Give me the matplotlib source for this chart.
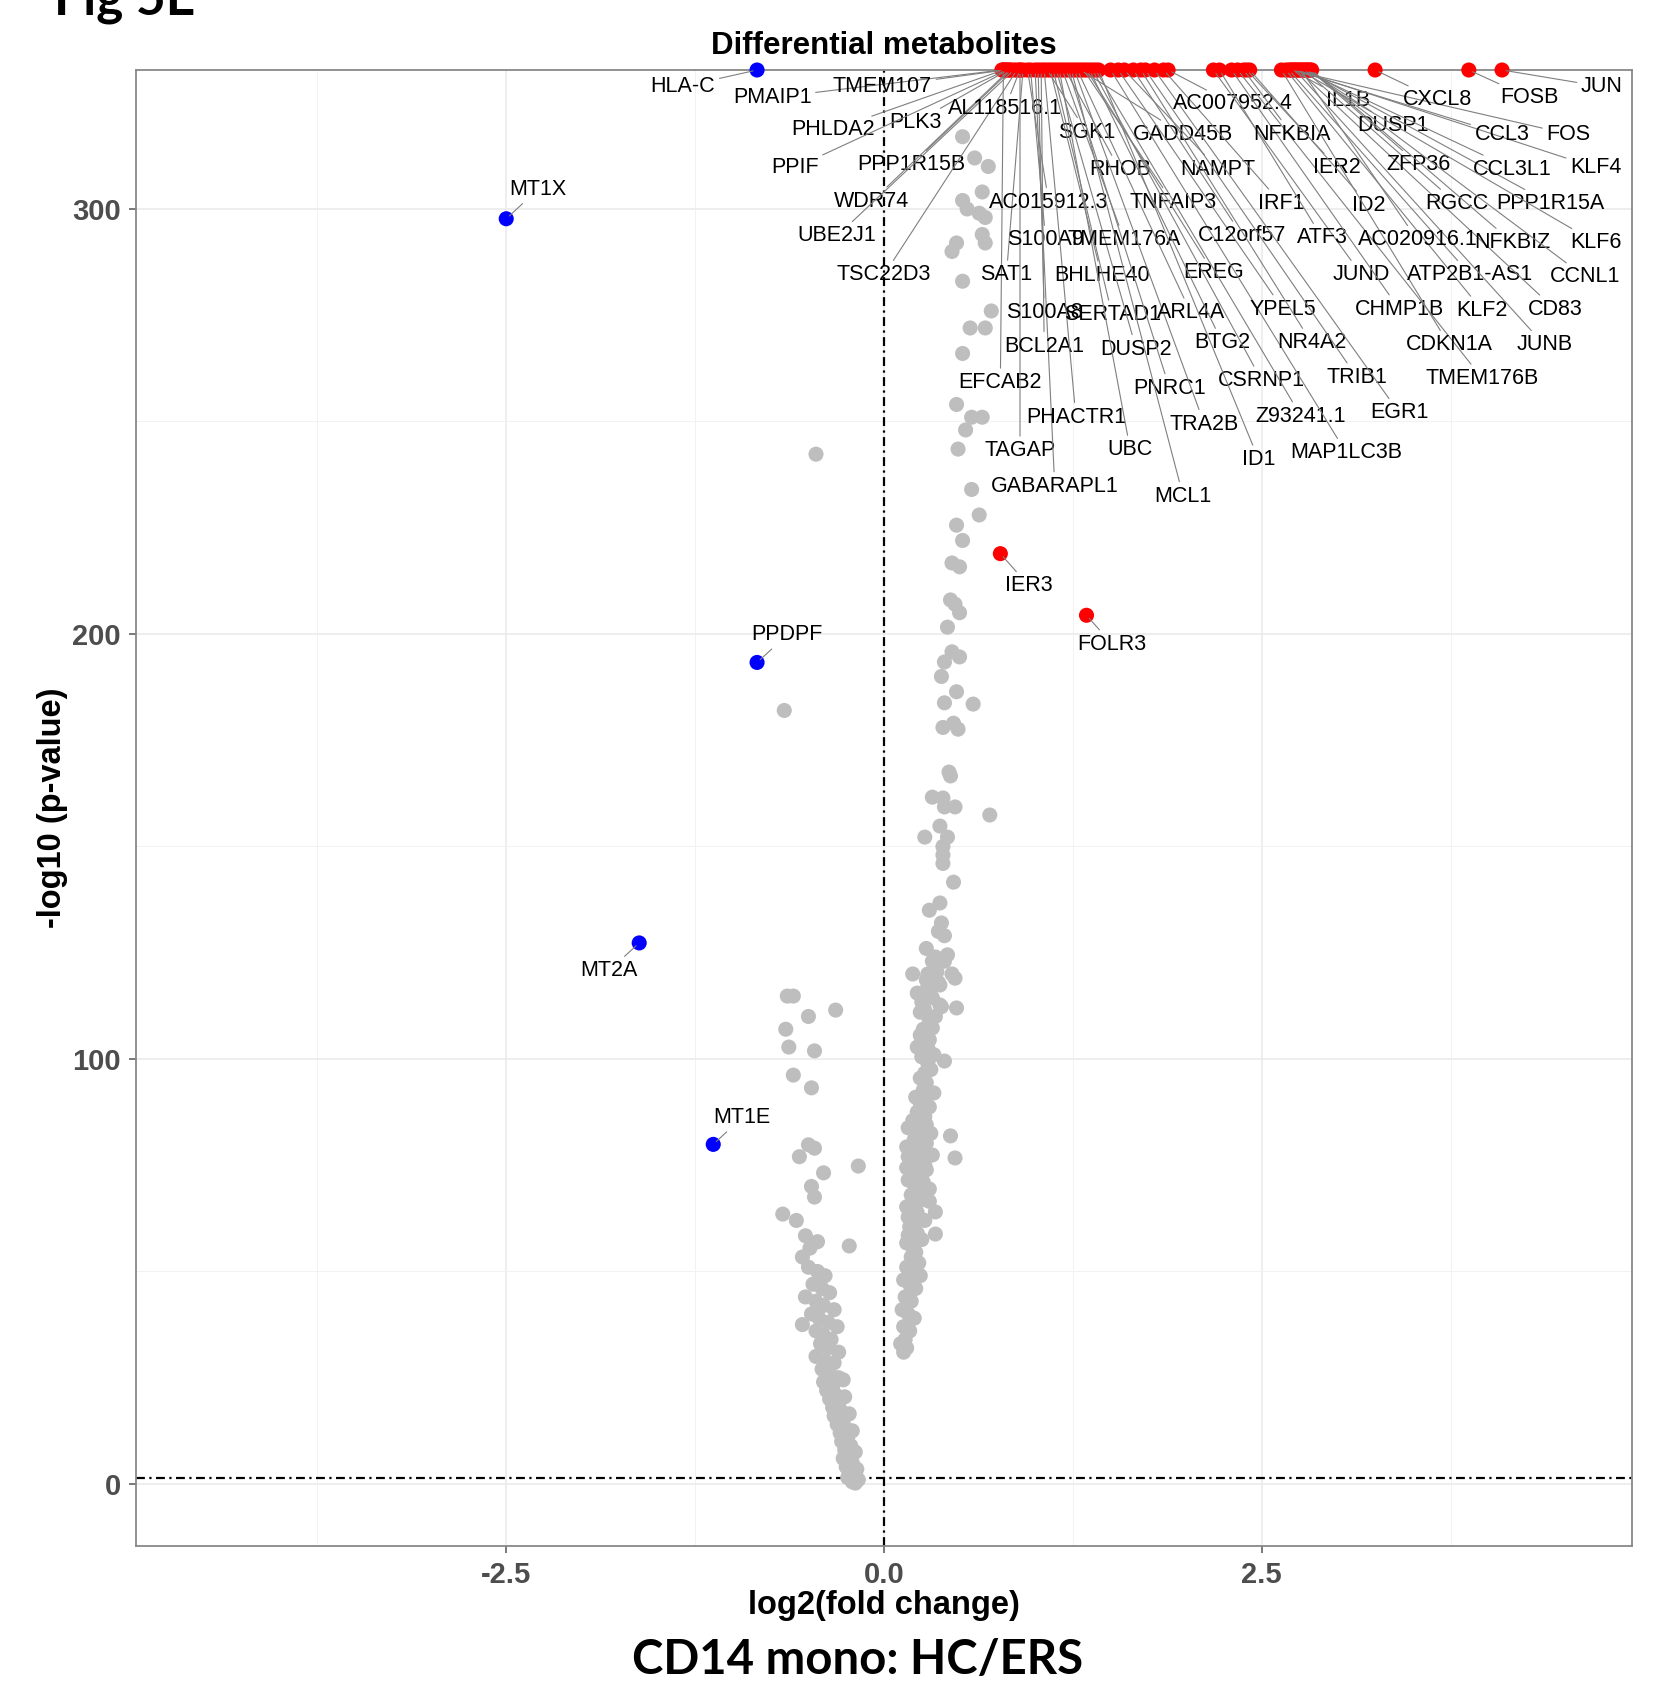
import numpy as np
import matplotlib
matplotlib.use("Agg")
import matplotlib.pyplot as plt

plt.rcParams['font.family'] = ['Liberation Sans', 'DejaVu Sans']

# ---------------- data ----------------
# non-significant genes (log2FC, -log10 p)
ns_upper = [(0.52,317),(0.60,312),(0.69,310),(0.65,304),(0.52,302),(0.55,300),(0.63,299),(0.67,298),
            (0.65,294),(0.67,292),(0.48,292),(0.45,290),(0.52,283),(0.71,276),(0.57,272),(0.67,272),
            (0.52,266),(0.48,254),(0.58,251),(0.65,251),(0.54,248),(0.49,243.5),(0.58,234),(0.63,228),
            (0.48,225.6),(0.52,222),(0.45,216.7),(0.50,215.8),(0.44,208),(0.47,207),(0.50,205),
            (0.42,201.6),(0.45,195.8),(0.50,194.6),(0.40,193.4),(0.38,190),(0.48,186.4),(0.40,183.8),
            (0.59,183.5),(0.39,178),(0.46,179),(0.49,177.6),(0.43,167.5),(0.44,166.6),(0.32,161.6),
            (0.39,161.4),(0.40,159.3),(0.47,159.3),(0.70,157.4),(0.37,154.8),(0.27,152.2),(0.42,152.2),
            (0.39,150),(0.39,148),(0.39,146),(0.46,141.6),(0.37,136.7),(0.30,135),(0.38,132),(0.36,130),
            (0.40,129),(0.28,126),(0.42,124.5),(0.34,124)]
ns_right = [(0.32,123),(0.40,123),(0.19,120),(0.29,120),(0.45,120),(0.36,118),(0.47,119),(0.28,118.6),
            (0.35,120.5),(0.22,115.5),(0.30,115.5),(0.25,113.4),(0.37,112.7),(0.48,112),(0.29,117),
            (0.37,117.4),(0.32,114.4),(0.24,111),(0.30,109),(0.26,107),(0.29,105),(0.38,112.3),
            (0.32,107.3),(0.24,105.6),(0.30,104.5),(0.22,102.8),(0.29,102.6),(0.40,99.5),(0.29,99),
            (0.27,96.7),(0.28,94.4),(0.26,92.7),(0.21,91),(0.24,89.6),(0.30,88.7),(0.22,87.5),(0.27,86.4),
            (0.16,83.8),(0.24,83.3),(0.28,84.5),(0.44,81.9),(0.15,79.3),(0.22,79.3),(0.28,80.2),(0.16,77),
            (0.22,76.2),(0.32,77.4),(0.47,76.7),(0.15,74.4),(0.22,73.2),(0.28,73.9),(0.16,71.5),(0.24,69.9),
            (0.30,69.4),(0.18,68),(0.25,66.8),(0.15,65.2),(0.22,63.8),(0.34,64),(0.34,58.8),(0.16,62.8),
            (0.17,60.5),(0.22,59),(0.15,56.7),(0.19,55.8),(0.18,53.4),(0.20,81),(0.19,75.5),(0.26,71),
            (0.20,70.5),(0.19,66),(0.27,62),(0.20,61.5),(0.25,57.5),(0.21,54.5),(0.23,52),(0.15,51),
            (0.19,50),(0.13,48),(0.17,47),(0.21,46),(0.14,44),(0.18,43),(0.12,41),(0.16,40),(0.20,39),
            (0.13,37),(0.17,36),(0.14,34),(0.11,33),(0.15,32),(0.13,31),(0.24,95.5),(0.31,97.5),
            (0.33,101),(0.26,90),(0.25,100.5),(0.34,110),(0.27,111.5),(0.33,92),(0.19,85.5),(0.31,82.5),
            (0.26,78.5),(0.27,75),(0.21,67.5),(0.30,66.5),(0.16,58.5),(0.24,49)]
ns_left = [(-0.45,242.3),(-0.66,182),(-0.64,114.8),(-0.60,114.8),(-0.32,111.5),(-0.50,110),(-0.65,107),
           (-0.63,102.8),(-0.46,101.9),(-0.60,96.2),(-0.48,93.2),(-0.50,79.8),(-0.46,79),(-0.56,77),
           (-0.17,74.8),(-0.40,73.2),(-0.48,70),(-0.46,67.5),(-0.67,63.5),(-0.58,62),(-0.23,56),
           (-0.52,58.4),(-0.44,57),(-0.49,55.5),(-0.54,53.4),(-0.50,51),(-0.44,50),(-0.39,49),(-0.47,47),
           (-0.41,46),(-0.36,45),(-0.52,44),(-0.45,43),(-0.40,42),(-0.33,41),(-0.48,40),(-0.43,39),
           (-0.37,38),(-0.54,37.5),(-0.31,37),(-0.45,36),(-0.40,35),(-0.35,34),(-0.42,33),(-0.37,32),
           (-0.30,31),(-0.45,30),(-0.39,29),(-0.33,28.5),(-0.41,27),(-0.36,26),(-0.30,25),(-0.27,24.5),
           (-0.40,24),(-0.34,23),(-0.38,22),(-0.32,21),(-0.26,20.5),(-0.36,20),(-0.30,19),(-0.34,18),
           (-0.28,17),(-0.23,16.5),(-0.33,16),(-0.27,15),(-0.31,14),(-0.25,13),(-0.21,12.5),(-0.29,12),
           (-0.24,11),(-0.28,10),(-0.22,9),(-0.26,8),(-0.19,7.5),(-0.23,7),(-0.27,6),(-0.21,5),(-0.25,4),
           (-0.18,3.5),(-0.22,3),(-0.20,2),(-0.24,1.5),(-0.17,1),(-0.21,0.5),(-0.19,0.2)]

# significant, labelled genes: name, log2FC, -log10 p (inf = p of 0, drawn at panel top)
up_genes = ["PMAIP1","TMEM107","PLK3","PHLDA2","PPIF","PPP1R15B","WDR74","UBE2J1","TSC22D3","AL118516.1",
            "EFCAB2","SAT1","TAGAP","AC015912.3","S100A9","GABARAPL1","S100A8","BCL2A1","PHACTR1","SGK1",
            "BHLHE40","SERTAD1","DUSP2","UBC","TMEM176A","RHOB","PNRC1","MCL1","TRA2B","ARL4A","GADD45B",
            "TNFAIP3","EREG","BTG2","CSRNP1","Z93241.1","ID1","MAP1LC3B","YPEL5","NAMPT","C12orf57","NR4A2",
            "TRIB1","EGR1","IRF1","AC007952.4","JUND","ATF3","CHMP1B","TMEM176B","NFKBIA","IER2","ID2",
            "CDKN1A","KLF2","ATP2B1-AS1","IL1B","JUNB","CD83","AC020916.1","RGCC","DUSP1","ZFP36","NFKBIZ",
            "CCNL1","PPP1R15A","CCL3L1","KLF6","KLF4","CCL3","FOS","CXCL8","FOSB","JUN","IER3","FOLR3"]
up_fc = [0.78,0.80,0.82,0.79,0.81,0.84,0.83,0.86,0.88,0.90,0.79,0.92,0.90,0.95,0.97,1.00,1.02,1.04,1.06,1.08,
         1.10,1.12,1.14,1.16,1.18,1.20,1.22,1.24,1.26,1.28,1.30,1.32,1.34,1.36,1.38,1.40,1.42,1.50,1.55,1.59,
         1.65,1.70,1.73,1.79,1.85,1.88,2.18,2.22,2.30,2.34,2.38,2.40,2.42,2.63,2.66,2.68,2.70,2.72,2.74,2.76,
         2.78,2.80,2.82,2.83,2.81,2.79,2.77,2.75,2.73,2.71,2.69,3.25,3.87,4.09,0.77,1.34]
up_p = [np.inf] * 74 + [218.9, 204.4]

down_genes = ["HLA-C","MT1X","PPDPF","MT2A","MT1E"]
down_fc = [-0.84,-2.50,-0.84,-1.62,-1.13]
down_p = [np.inf,297.7,193.3,127.3,79.9]

# label layout (text centre, data units), as placed by the repel algorithm
up_lab_xy = [(-0.74,326.2),(-0.01,328.8),(0.21,320.4),(-0.34,318.6),(-0.59,309.7),(0.18,310.4),(-0.08,301.8),
             (-0.31,293.7),(0.00,284.5),(0.80,323.7),(0.77,259.1),(0.81,284.5),(0.90,243.1),(1.09,301.6),
             (1.07,292.7),(1.13,234.7),(1.06,275.6),(1.06,267.7),(1.27,251.0),(1.34,318.1),(1.44,284.3),
             (1.51,275.1),(1.67,267.0),(1.63,243.3),(1.59,292.7),(1.56,309.2),(1.89,257.8),(1.98,232.4),
             (2.12,249.4),(2.03,275.6),(1.98,317.6),(1.91,301.6),(2.18,285.0),(2.24,268.5),(2.50,259.6),
             (2.76,251.2),(2.48,241.0),(3.06,242.6),(2.64,276.4),(2.21,309.4),(2.37,293.7),(2.83,268.5),
             (3.13,260.4),(3.41,252.0),(2.63,301.3),(2.31,324.7),(3.16,284.5),(2.90,293.2),(3.41,276.4),
             (3.96,260.1),(2.70,317.6),(3.00,309.7),(3.21,300.8),(3.74,268.0),(3.96,276.1),(3.88,284.5),
             (3.07,325.5),(4.37,268.0),(4.44,276.4),(3.53,292.7),(3.79,301.3),(3.37,319.6),(3.54,310.4),
             (4.16,292.1),(4.64,284.0),(4.41,301.3),(4.16,309.4),(4.71,292.1),(4.71,309.7),(4.09,317.6),
             (4.53,317.6),(3.66,325.7),(4.27,326.2),(4.75,328.8),(0.96,211.3),(1.51,197.6)]
down_lab_xy = [(-1.33,328.8),(-2.29,304.6),(-0.64,199.8),(-1.82,120.8),(-0.94,86.2)]

X_LIM = (-4.95, 4.95)
Y_LIM = (-14.6, 332.7)
P_CUT = -np.log10(0.05)

# ---------------- figure ----------------
W, H = 1664, 1695
fig = plt.figure(figsize=(W / 100, H / 100), dpi=100)
ax = fig.add_axes([136 / W, 1 - 1546 / H, (1632 - 136) / W, (1546 - 70) / H])
ax.set_xlim(*X_LIM)
ax.set_ylim(*Y_LIM)

def cap(v):
    v = np.asarray(v, dtype=float)
    return np.where(np.isinf(v), Y_LIM[1], v)

ns = ns_upper + ns_right + ns_left
ns_x = [p[0] for p in ns]
ns_y = [p[1] for p in ns]
ax.scatter(ns_x, ns_y, s=118, color="#BEBEBE", edgecolors="none", zorder=3)
ax.scatter(up_fc, cap(up_p), s=118, color="#FF0000", edgecolors="none", zorder=4, clip_on=False)
ax.scatter(down_fc, cap(down_p), s=118, color="#0000FF", edgecolors="none", zorder=4, clip_on=False)

ax.axvline(0, color="black", lw=1.6, ls=(0, (4, 2, 1, 2)), zorder=2)
ax.axhline(P_CUT, color="black", lw=1.6, ls=(0, (4, 2, 1, 2)), zorder=2)

def label(names, xs, ys, labs):
    yc = cap(ys)
    for n, x, y, (lx, ly) in zip(names, xs, yc, labs):
        ax.annotate(n, xy=(x, y), xytext=(lx, ly), ha="center", va="center", fontsize=15.5,
                    color="black", zorder=6, annotation_clip=False,
                    arrowprops=dict(arrowstyle="-", color="#7F7F7F", lw=0.8,
                                    shrinkA=1, shrinkB=3))

label(up_genes, up_fc, up_p, up_lab_xy)
label(down_genes, down_fc, down_p, down_lab_xy)

# axes styling (theme_bw-like)
ax.set_xticks([-2.5, 0, 2.5])
ax.set_xticklabels(["-2.5", "0.0", "2.5"])
ax.set_yticks([0, 100, 200, 300])
ax.set_yticklabels(["0", "100", "200", "300"])
ax.set_xticks([-3.75, -1.25, 1.25, 3.75], minor=True)
ax.set_yticks([50, 150, 250], minor=True)
ax.grid(which="major", color="#EBEBEB", lw=1.2)
ax.grid(which="minor", color="#F2F2F2", lw=0.7)
ax.set_axisbelow(True)
ax.tick_params(which="minor", length=0)
ax.tick_params(which="major", length=5, width=1.1, color="#555555", labelsize=21,
               labelcolor="#4D4D4D", pad=6)
for t in ax.get_xticklabels() + ax.get_yticklabels():
    t.set_fontweight("bold")
for s in ax.spines.values():
    s.set_color("#888888")
    s.set_linewidth(1.3)

fig.text(884 / W, 1 - 54 / H, "Differential metabolites", ha="center", va="baseline",
         fontsize=22.5, fontweight="bold")
fig.text(884 / W, 1 - 1614 / H, "log2(fold change)", ha="center", va="baseline",
         fontsize=23.5, fontweight="bold")
fig.text(52 / W, 1 - 808 / H, "-log10 (p-value)", ha="center", va="center", rotation=90,
         fontsize=23.5, fontweight="bold")

fig.text(858 / W, 1 - 1660 / H, "CD14 mono: HC/ERS", ha="center", va="center",
         fontsize=34, fontweight="bold", family=["Lato", "DejaVu Sans"])
fig.text(54 / W, 1 - 14 / H, "Fig 5E", ha="left", va="baseline",
         fontsize=37, fontweight="bold", family=["Lato", "DejaVu Sans"])

fig.savefig("out.png", dpi=100, facecolor="white")
